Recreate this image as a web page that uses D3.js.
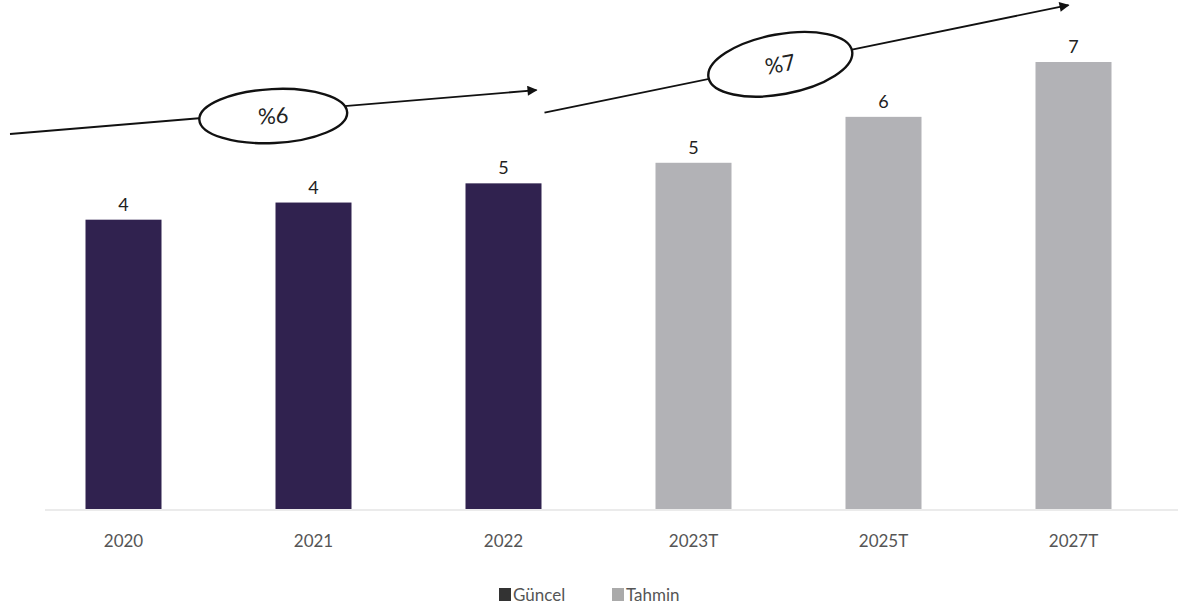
<!DOCTYPE html>
<html><head><meta charset="utf-8">
<script src="https://cdn.jsdelivr.net/npm/d3@7"></script>
<style>html,body{margin:0;padding:0;background:#fff;}svg{display:block;}</style>
</head><body>
<script>
const categories = ["2020", "2021", "2022", "2023T", "2025T", "2027T"];
const values = [4.22, 4.47, 4.75, 5.05, 5.72, 6.52];
const seriesOf = ["Güncel", "Güncel", "Güncel", "Tahmin", "Tahmin", "Tahmin"];
const seriesNames = ["Güncel", "Tahmin"];
const growthLabels = ["%6", "%7"];
// growth arrows in data units: [startValue, endValue]
const growthArrowValues = [[5.47, 6.11], [5.78, 7.35]];

const W = 1178, H = 609;
const svg = d3.select("body").append("svg").attr("width", W).attr("height", H);
const font = "Lato, 'Open Sans', sans-serif";

const x = d3.scaleBand().domain(categories).range([28.5, 1168.5]).paddingInner(0.6).paddingOuter(0.3);
const y = d3.scaleLinear().domain([0, 6.52]).range([509, 62]);
const color = d3.scaleOrdinal().domain(seriesNames).range(["#30224f", "#b2b2b6"]);

// baseline
svg.append("line").attr("x1", 45).attr("x2", W).attr("y1", y(0) + 1).attr("y2", y(0) + 1)
  .attr("stroke", "#e4e4e4").attr("stroke-width", 1.5);

const data = categories.map((c, i) => ({c, v: values[i], s: seriesOf[i]}));

svg.selectAll("rect.bar").data(data).join("rect").attr("class", "bar")
  .attr("x", d => x(d.c)).attr("width", x.bandwidth())
  .attr("y", d => y(d.v)).attr("height", d => y(0) - y(d.v))
  .attr("fill", d => color(d.s));

svg.selectAll("text.val").data(data).join("text").attr("class", "val")
  .attr("x", d => x(d.c) + x.bandwidth() / 2).attr("y", d => y(d.v) - 9)
  .attr("text-anchor", "middle").attr("font-family", font).attr("font-size", 18)
  .attr("fill", "#222").text(d => d3.format(".0f")(d.v));

// x axis labels
const xAxis = d3.axisBottom(x).tickSize(0).tickPadding(26);
const gx = svg.append("g").attr("transform", `translate(0,${y(0)})`).call(xAxis);
gx.select(".domain").remove();
gx.selectAll("text").attr("font-family", font).attr("font-size", 17).attr("fill", "#555");

// growth arrows
const defs = svg.append("defs");
defs.append("marker").attr("id", "ah").attr("viewBox", "0 0 10 10").attr("refX", 9).attr("refY", 5)
  .attr("markerWidth", 13).attr("markerHeight", 10).attr("markerUnits", "userSpaceOnUse")
  .attr("orient", "auto").append("path").attr("d", "M0,0 L10,5 L0,10 Z").attr("fill", "#111");

const bw = x.bandwidth();
const arrows = [
  {x0: 10, x1: x(categories[2]) + bw - 5, v: growthArrowValues[0], label: growthLabels[0], rx: 74, ry: 27, cxFrac: 0.5, dy: 4, rot: 0.6},
  {x0: x(categories[2]) + bw + 3, x1: x(categories[5]) + bw / 2 - 5, v: growthArrowValues[1], label: growthLabels[1], rx: 73, ry: 30, cxFrac: 0.45, dy: 0, rot: 0.9}
];
arrows.forEach(a => {
  const y0 = y(a.v[0]), y1 = y(a.v[1]);
  svg.append("line").attr("x1", a.x0).attr("y1", y0).attr("x2", a.x1).attr("y2", y1)
    .attr("stroke", "#111").attr("stroke-width", 1.8).attr("marker-end", "url(#ah)");
  const cx = a.x0 + (a.x1 - a.x0) * a.cxFrac;
  const cy = y0 + (y1 - y0) * a.cxFrac + a.dy;
  const ang = Math.atan2(y1 - y0, a.x1 - a.x0) * 180 / Math.PI * a.rot;
  const g = svg.append("g").attr("transform", `translate(${cx},${cy}) rotate(${ang})`);
  g.append("ellipse").attr("rx", a.rx).attr("ry", a.ry).attr("fill", "#fff")
    .attr("stroke", "#111").attr("stroke-width", 2.4);
  g.append("text").attr("text-anchor", "middle").attr("dy", "0.35em")
    .attr("font-family", font).attr("font-size", 22).attr("fill", "#222").text(a.label);
});

// legend
const legend = svg.append("g").attr("transform", "translate(499,595)");
const items = [{n: seriesNames[0], x: 0}, {n: seriesNames[1], x: 113}];
items.forEach(it => {
  legend.append("rect").attr("x", it.x).attr("y", -7).attr("width", 12).attr("height", 13)
    .attr("fill", it.n === seriesNames[0] ? "#333" : "#aaa");
  legend.append("text").attr("x", it.x + 14).attr("y", 0).attr("dy", "0.35em")
    .attr("font-family", font).attr("font-size", 17).attr("fill", "#555").text(it.n);
});
</script>
</body></html>
